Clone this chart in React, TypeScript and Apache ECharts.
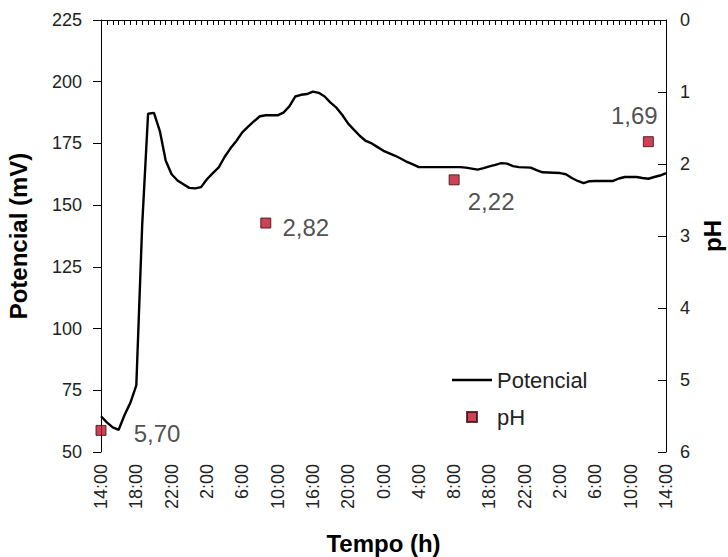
import React, { useEffect, useRef } from "react";
import * as echarts from "echarts";

const tickLabels = [
  "14:00", "18:00", "22:00", "2:00", "6:00", "10:00", "16:00", "20:00", "0:00",
  "4:00", "8:00", "18:00", "22:00", "2:00", "6:00", "10:00", "14:00",
];
const samplesPerLabel = 6;

const potencial = [
  64.5, 62, 60, 59, 65, 70, 77, 142, 187, 187.4,
  180, 168, 162.5, 160, 158.5, 157, 156.8, 157.3, 160.5, 163,
  165.3, 169.5, 173, 176, 179.5, 181.8, 184, 186, 186.4, 186.4,
  186.4, 187.5, 190, 194, 194.7, 195, 196, 195.5, 194, 191.5,
  189.5, 186.5, 183, 180.5, 178, 176, 175, 173.5, 172, 171,
  170, 168.8, 167.5, 166.5, 165.4, 165.4, 165.4, 165.4, 165.4, 165.4,
  165.4, 165.4, 165.2, 164.8, 164.4, 165, 165.7, 166.3, 167, 166.8,
  165.8, 165.4, 165.3, 165.2, 164.2, 163.3, 163.2, 163.1, 163, 162.5,
  161, 159.8, 158.9, 159.7, 159.8, 159.8, 159.8, 159.8, 160.8, 161.4,
  161.4, 161.4, 161, 160.7, 161.4, 162, 163,
];

const phIndex = [0, 28, 60, 93];
const phValues = [5.7, 2.82, 2.22, 1.69];

const categories = potencial.map((_, i) => String(i));

const FONT = "'Liberation Sans', Arial, Helvetica, sans-serif";

export default function App() {
  const ref = useRef<HTMLDivElement>(null);

  useEffect(() => {
    if (!ref.current) return;
    const chart = echarts.init(ref.current, null, { renderer: "svg" });
    const labelOffsets = [
      [56, 3],
      [40, 4],
      [37, 22],
      [-14, -26],
    ];
    const option: any = {
      animation: false,
      backgroundColor: "#ffffff",
      grid: {
        left: 101,
        right: 62,
        top: 20,
        bottom: 105,
        containLabel: false,
        outerBoundsMode: "none",
      },
      legend: {
        orient: "vertical",
        left: 447,
        top: 362,
        itemWidth: 40,
        itemHeight: 10,
        itemGap: 11,
        symbolKeepAspect: true,
        data: [
          { name: "Potencial", icon: "path://M0,0L40,0L40,2.5L0,2.5Z" },
          { name: "pH", icon: "path://M0,0L10,0L10,10L0,10Z" },
        ],
        textStyle: { fontSize: 22, color: "#222", fontFamily: FONT, lineHeight: 26 },
      },
      xAxis: {
        type: "category",
        data: categories,
        boundaryGap: false,
        axisLine: { lineStyle: { color: "#000", width: 1 } },
        axisTick: { interval: 0, length: 5, lineStyle: { color: "#000" } },
        axisLabel: {
          interval: (i: number) => i % samplesPerLabel === 0,
          formatter: (_v: string, i: number) => tickLabels[i / samplesPerLabel] ?? "",
          rotate: 90,
          margin: 12,
          fontSize: 18,
          color: "#222",
          fontFamily: FONT,
        },
        splitLine: { show: false },
        name: "Tempo (h)",
        nameLocation: "middle",
        nameGap: 79,
        nameTextStyle: { fontSize: 24, fontWeight: "bold", color: "#000", fontFamily: FONT },
      },
      yAxis: [
        {
          type: "value",
          min: 50,
          max: 225,
          interval: 25,
          position: "left",
          axisLine: { show: true, lineStyle: { color: "#000", width: 1 } },
          axisTick: { show: true, length: 8, lineStyle: { color: "#000" } },
          axisLabel: { margin: 19, fontSize: 18, color: "#222", fontFamily: FONT },
          splitLine: { show: false },
          name: "Potencial (mV)",
          nameLocation: "middle",
          nameRotate: 90,
          nameGap: 71,
          nameTextStyle: { fontSize: 24, fontWeight: "bold", color: "#000", fontFamily: FONT },
        },
        {
          type: "value",
          min: 0,
          max: 6,
          interval: 1,
          inverse: true,
          position: "right",
          axisLine: { show: true, lineStyle: { color: "#000", width: 1 } },
          axisTick: { show: true, inside: true, length: 8, lineStyle: { color: "#000" } },
          axisLabel: { margin: 14, fontSize: 18, color: "#222", fontFamily: FONT },
          splitLine: { show: false },
          name: "pH",
          nameLocation: "middle",
          nameRotate: 90,
          nameGap: 32,
          nameTextStyle: { fontSize: 24, fontWeight: "bold", color: "#000", fontFamily: FONT },
        },
      ],
      series: [
        {
          name: "Potencial",
          type: "line",
          yAxisIndex: 0,
          data: potencial,
          symbol: "none",
          showSymbol: false,
          lineStyle: { color: "#000", width: 2.4 },
          itemStyle: { color: "#000" },
        },
        {
          name: "pH",
          type: "scatter",
          yAxisIndex: 1,
          symbol: "rect",
          symbolSize: 10,
          itemStyle: { color: "#c0142a", borderColor: "#3a0a0a", borderWidth: 1 },
          label: {
            show: true,
            position: "inside",
            align: "center",
            verticalAlign: "middle",
            fontSize: 24,
            color: "#222",
            fontFamily: FONT,
            formatter: (p: any) => p.value[1].toFixed(2).replace(".", ","),
          },
          data: phIndex.map((x, k) => ({
            value: [x, phValues[k]],
            label: { offset: labelOffsets[k] },
          })),
        },
      ],
    };
    chart.setOption(option);
    return () => chart.dispose();
  }, []);

  return (
    <div
      ref={ref}
      style={{ position: "absolute", left: 0, top: 0, width: 728, height: 557 }}
    />
  );
}
